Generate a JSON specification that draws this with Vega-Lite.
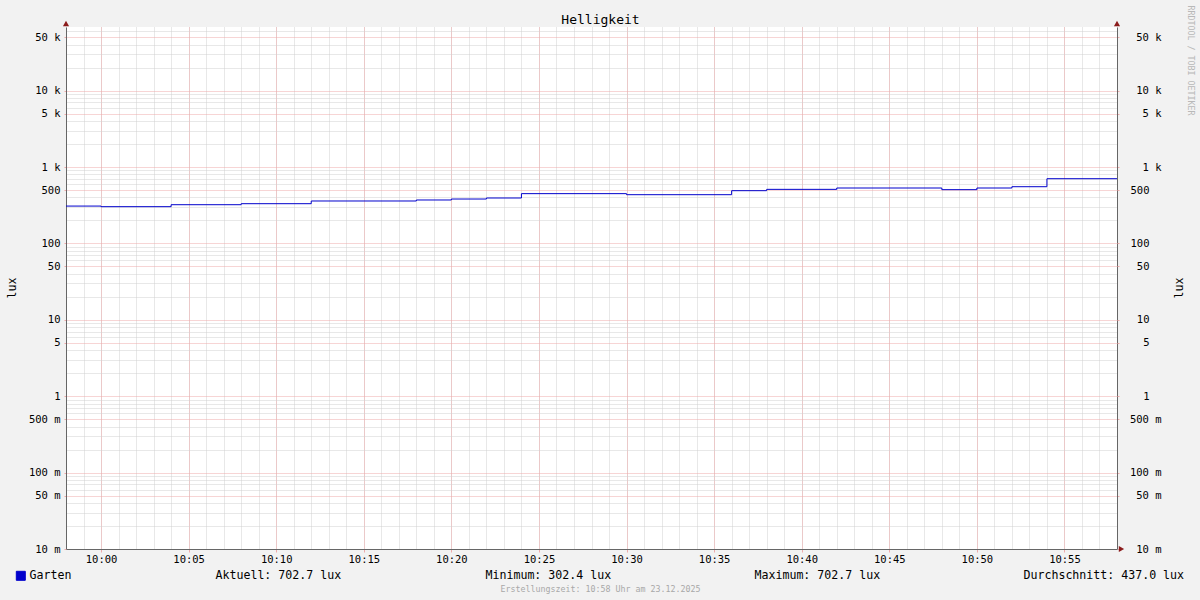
{
  "$schema": "https://vega.github.io/schema/vega-lite/v6.json",
  "width": 1051,
  "height": 522,
  "autosize": {"type": "none"},
  "padding": {"left": 66, "top": 27, "right": 83, "bottom": 51},
  "background": "#f2f2f2",
  "config": {
    "view": {"fill": "#ffffff", "stroke": null},
    "font": "DejaVu Sans Mono",
    "axis": {"labelFont": "DejaVu Sans Mono", "titleFont": "DejaVu Sans Mono", "titleFontWeight": "normal", "labelColor": "#000000", "titleColor": "#000000"},
    "legend": {"labelFont": "DejaVu Sans Mono"}
  },
  "data": {"values": [
    {"t": "2025-12-23T09:58:00", "lux": 308, "s": "Garten"},
    {"t": "2025-12-23T10:00:00", "lux": 302.4, "s": "Garten"},
    {"t": "2025-12-23T10:04:00", "lux": 321, "s": "Garten"},
    {"t": "2025-12-23T10:08:00", "lux": 331, "s": "Garten"},
    {"t": "2025-12-23T10:12:00", "lux": 359, "s": "Garten"},
    {"t": "2025-12-23T10:18:00", "lux": 370, "s": "Garten"},
    {"t": "2025-12-23T10:20:00", "lux": 381, "s": "Garten"},
    {"t": "2025-12-23T10:22:00", "lux": 393, "s": "Garten"},
    {"t": "2025-12-23T10:24:00", "lux": 448, "s": "Garten"},
    {"t": "2025-12-23T10:30:00", "lux": 434, "s": "Garten"},
    {"t": "2025-12-23T10:36:00", "lux": 490, "s": "Garten"},
    {"t": "2025-12-23T10:38:00", "lux": 510, "s": "Garten"},
    {"t": "2025-12-23T10:42:00", "lux": 531, "s": "Garten"},
    {"t": "2025-12-23T10:48:00", "lux": 505, "s": "Garten"},
    {"t": "2025-12-23T10:50:00", "lux": 531, "s": "Garten"},
    {"t": "2025-12-23T10:52:00", "lux": 552, "s": "Garten"},
    {"t": "2025-12-23T10:54:00", "lux": 702.7, "s": "Garten"},
    {"t": "2025-12-23T10:58:00", "lux": 702.7, "s": "Garten"}
  ]},
  "resolve": {"axis": {"x": "independent", "y": "independent"}},
  "layer": [
    {
      "mark": {"type": "line", "opacity": 0},
      "encoding": {
        "x": {"field": "t", "type": "temporal",
          "scale": {"domain": [{"year": 2025, "month": 12, "date": 23, "hours": 9, "minutes": 58}, {"year": 2025, "month": 12, "date": 23, "hours": 10, "minutes": 58}], "nice": false},
          "axis": {"orient": "bottom", "grid": true, "gridColor": "#d0d0d0", "gridDash": [1, 1], "gridWidth": 1, "tickCount": 60, "labels": false, "ticks": false, "domain": false,
            "title": "Aktuell: 702.7 lux", "titleX": 149, "titleY": 26, "titleAlign": "left", "titleBaseline": "middle", "titleFontSize": 11.6, "zindex": 0}},
        "y": {"field": "lux", "type": "quantitative",
          "scale": {"type": "log", "domain": [0.01, 68000], "nice": false},
          "axis": {"orient": "left", "grid": true, "gridColor": "#d0d0d0", "gridDash": [1, 1], "gridWidth": 1,
            "values": [0.02, 0.03, 0.04, 0.06, 0.07, 0.08, 0.09, 0.2, 0.3, 0.4, 0.6, 0.7, 0.8, 0.9, 2, 3, 4, 6, 7, 8, 9, 20, 30, 40, 60, 70, 80, 90, 200, 300, 400, 600, 700, 800, 900, 2000, 3000, 4000, 6000, 7000, 8000, 9000, 20000, 30000, 40000, 60000],
            "labels": false, "ticks": false, "domain": false,
            "title": "Maximum: 702.7 lux", "titleAngle": 0, "titleX": 688, "titleY": 548, "titleAlign": "left", "titleBaseline": "middle", "titleFontSize": 11.6, "zindex": 0}}
      }
    },
    {
      "mark": {"type": "line", "opacity": 0},
      "encoding": {
        "x": {"field": "t", "type": "temporal",
          "axis": {"orient": "bottom", "grid": true, "gridColor": "#eeaaaa", "gridDash": [1, 1], "gridWidth": 1, "tickCount": 12, "format": "%H:%M",
            "labelFontSize": 10.5, "labelPadding": 2, "ticks": true, "tickSize": 3, "tickColor": "#eeaaaa", "domain": true, "domainColor": "#666666", "domainWidth": 1, "labelFlush": false, "labelOverlap": false,
            "title": "Minimum: 302.4 lux", "titleX": 419, "titleY": 26, "titleAlign": "left", "titleBaseline": "middle", "titleFontSize": 11.6, "zindex": 0}},
        "y": {"field": "lux", "type": "quantitative",
          "axis": {"orient": "left", "grid": true, "gridColor": "#eeaaaa", "gridDash": [1, 1], "gridWidth": 1,
            "values": [0.01, 0.05, 0.1, 0.5, 1, 5, 10, 50, 100, 500, 1000, 5000, 10000, 50000],
            "labelExpr": "datum.value >= 1000 ? format(datum.value / 1000, 'd') + ' k' : (datum.value < 1 ? format(datum.value * 1000, 'd') + ' m' : format(datum.value, 'd') + '\u00a0\u00a0')",
            "labelFontSize": 10.5, "labelPadding": 4, "labelBaseline": "middle", "labelFlush": false, "labelOverlap": false,
            "ticks": true, "tickSize": 2, "tickColor": "#eeaaaa", "domain": true, "domainColor": "#666666", "domainWidth": 1,
            "title": "lux", "titleX": -51, "titleY": 260.5, "titleAngle": 270, "titleAlign": "center", "titleBaseline": "alphabetic", "titleFontSize": 11.6, "zindex": 0}}
      }
    },
    {
      "mark": {"type": "line", "opacity": 0},
      "encoding": {
        "x": {"field": "t", "type": "temporal",
          "axis": {"orient": "bottom", "grid": false, "labels": false, "ticks": false, "domain": false,
            "title": "Erstellungszeit: 10:58 Uhr am 23.12.2025", "titleX": 534, "titleY": 40, "titleAlign": "center", "titleBaseline": "middle", "titleFontSize": 8.3, "titleColor": "#a8a8a8"}},
        "y": {"field": "lux", "type": "quantitative",
          "axis": {"orient": "right", "grid": false,
            "values": [0.01, 0.05, 0.1, 0.5, 1000, 5000, 10000, 50000],
            "labelExpr": "datum.value >= 1000 ? format(datum.value / 1000, 'd') + ' k' : format(datum.value * 1000, 'd') + ' m'",
            "labelFontSize": 10.5, "labelAlign": "right", "labelPadding": 42, "labelBaseline": "middle", "labelFlush": false, "labelOverlap": false,
            "ticks": true, "tickSize": 2, "tickColor": "#eeaaaa", "domain": true, "domainColor": "#666666", "domainWidth": 1,
            "title": "lux", "titleX": 65.7, "titleY": 260.5, "titleAngle": 270, "titleAlign": "center", "titleBaseline": "alphabetic", "titleFontSize": 11.6}}
      }
    },
    {
      "mark": {"type": "line", "opacity": 0},
      "encoding": {
        "x": {"field": "t", "type": "temporal",
          "axis": {"orient": "bottom", "grid": false, "labels": false, "ticks": false, "domain": false,
            "title": "Durchschnitt: 437.0 lux", "titleX": 957, "titleY": 26, "titleAlign": "left", "titleBaseline": "middle", "titleFontSize": 11.6}},
        "y": {"field": "lux", "type": "quantitative",
          "axis": {"orient": "right", "grid": false,
            "values": [1, 5, 10, 50, 100, 500],
            "format": "d",
            "labelFontSize": 10.5, "labelAlign": "right", "labelPadding": 30, "labelBaseline": "middle", "labelFlush": false, "labelOverlap": false,
            "ticks": true, "tickSize": 2, "tickColor": "#eeaaaa", "domain": false, "title": null}}
      }
    },
    {
      "mark": {"type": "line", "interpolate": "step-after", "strokeWidth": 1},
      "encoding": {
        "x": {"field": "t", "type": "temporal",
          "axis": {"orient": "top", "grid": false, "labels": false, "ticks": false, "domain": false,
            "title": "Helligkeit", "titleX": 534, "titleY": -8, "titleAlign": "center", "titleBaseline": "middle", "titleFontSize": 13}},
        "y": {"field": "lux", "type": "quantitative",
          "axis": {"orient": "right", "grid": false, "labels": false, "ticks": false, "domain": false,
            "title": "RRDTOOL / TOBI OETIKER", "titleX": 70, "titleY": -22, "titleAngle": 90, "titleAlign": "left", "titleBaseline": "alphabetic", "titleFontSize": 8.3, "titleColor": "#b8b8b8"}},
        "color": {"field": "s", "type": "nominal", "scale": {"range": ["#0000cc"]},
          "legend": {"orient": "none", "legendX": -51, "legendY": 543, "title": null, "padding": 0,
            "symbolType": "square", "symbolSize": 81, "symbolFillColor": "#0000cc", "symbolStrokeColor": "#000000", "symbolStrokeWidth": 1,
            "labelFontSize": 11.6, "labelColor": "#000000", "labelOffset": 3,
            "encode": {"symbols": {"update": {"fill": {"value": "#0000cc"}, "stroke": {"value": "#000000"}, "strokeWidth": {"value": 1}}}}}}
      }
    },
    {
      "data": {"values": [{}]},
      "mark": {"type": "point", "shape": "triangle-up", "filled": true, "color": "#8b1c1c", "opacity": 1, "size": 38, "yOffset": -3.5},
      "encoding": {
        "x": {"datum": {"year": 2025, "month": 12, "date": 23, "hours": 9, "minutes": 58}, "type": "temporal", "axis": null},
        "y": {"datum": 68000, "type": "quantitative", "axis": null}
      }
    },
    {
      "data": {"values": [{}]},
      "mark": {"type": "point", "shape": "triangle-up", "filled": true, "color": "#8b1c1c", "opacity": 1, "size": 38, "yOffset": -3.5},
      "encoding": {
        "x": {"datum": {"year": 2025, "month": 12, "date": 23, "hours": 10, "minutes": 58}, "type": "temporal", "axis": null},
        "y": {"datum": 68000, "type": "quantitative", "axis": null}
      }
    },
    {
      "data": {"values": [{}]},
      "mark": {"type": "point", "shape": "triangle-right", "filled": true, "color": "#8b1c1c", "opacity": 1, "size": 38, "xOffset": 4.5},
      "encoding": {
        "x": {"datum": {"year": 2025, "month": 12, "date": 23, "hours": 10, "minutes": 58}, "type": "temporal", "axis": null},
        "y": {"datum": 0.01, "type": "quantitative", "axis": null}
      }
    }
  ]
}
